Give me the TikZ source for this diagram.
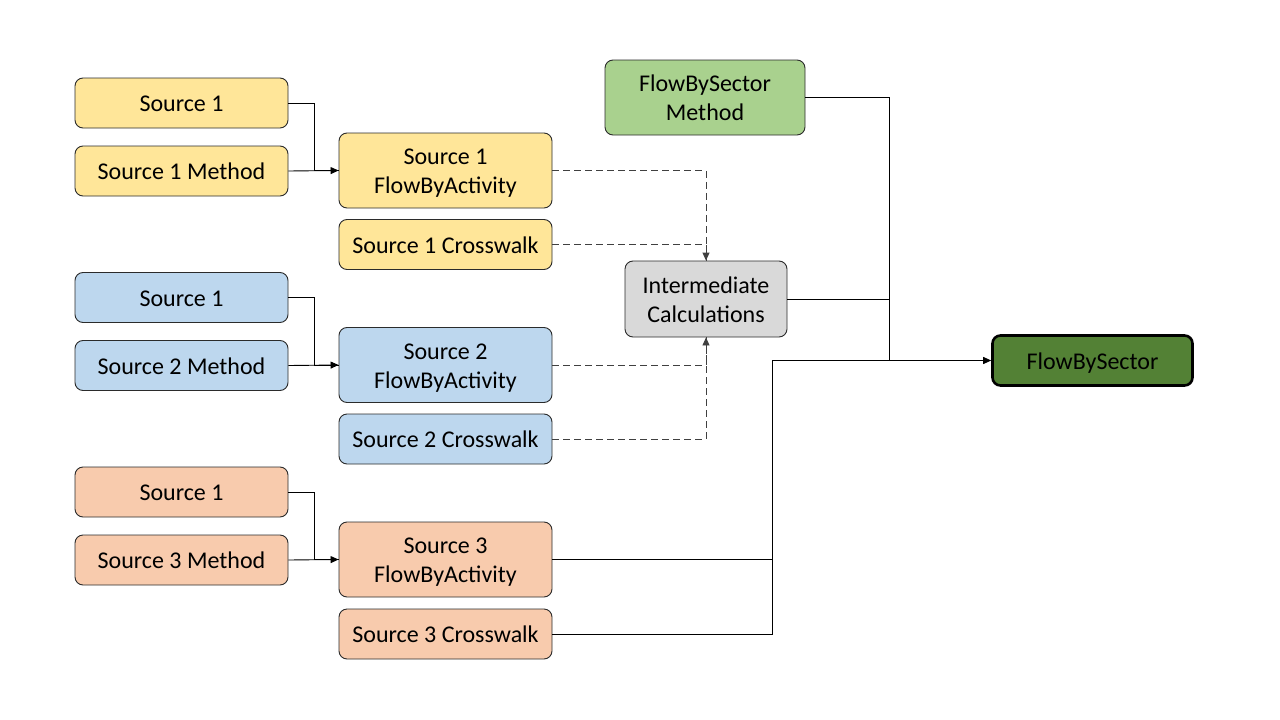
\documentclass[tikz,border=0pt]{standalone}
\usepackage{fontspec}
\setmainfont{Carlito}
\usetikzlibrary{arrows.meta,calc}
\definecolor{cyellow}{HTML}{FFE699}
\definecolor{cblue}{HTML}{BDD7EE}
\definecolor{corange}{HTML}{F8CBAD}
\definecolor{cgreenl}{HTML}{A9D18E}
\definecolor{cgray}{HTML}{D9D9D9}
\definecolor{cgreend}{HTML}{538135}
\definecolor{cborder}{HTML}{2B2B2B}
\newcommand{\tx}[1]{\raisebox{0pt}[17pt][\dimexpr\depth-8.7pt\relax]{\begin{tabular}[t]{@{}c@{}}#1\end{tabular}}}
\tikzset{
  box/.style={draw=cborder, line width=0.9pt, rounded corners=8pt, align=center,
    inner sep=0pt, font=\fontsize{24}{29}\selectfont, text=black},
  smallbox/.style={box, minimum width=213pt, minimum height=50pt},
  bigbox/.style={box, minimum width=213pt, minimum height=75pt},
  conn/.style={line width=0.9pt, draw=black},
  arr/.style={conn, -{Triangle[length=8pt,width=7pt]}},
  dconn/.style={line width=0.9pt, draw=black!75, dash pattern=on 7pt off 4pt},
  darr/.style={dconn, -{Triangle[length=8pt,width=7pt]}},
}
\begin{document}
\begin{tikzpicture}[x=1pt,y=-1pt]
\useasboundingbox (0,0) rectangle (1280,720);
% left column
\node[smallbox, fill=cyellow] (s1) at (181.5,103) {\tx{Source 1}};
\node[smallbox, fill=cyellow] (m1) at (181.5,171) {\tx{Source 1 Method}};
\node[smallbox, fill=cblue] (s2) at (181.5,297.5) {\tx{Source 1}};
\node[smallbox, fill=cblue] (m2) at (181.5,365.5) {\tx{Source 2 Method}};
\node[smallbox, fill=corange] (s3) at (181.5,492) {\tx{Source 1}};
\node[smallbox, fill=corange] (m3) at (181.5,560) {\tx{Source 3 Method}};
% middle column
\node[bigbox, fill=cyellow] (f1) at (445.5,170.5) {\tx{Source 1\\FlowByActivity}};
\node[smallbox, fill=cyellow] (c1) at (445.5,244.5) {\tx{Source 1 Crosswalk}};
\node[bigbox, fill=cblue] (f2) at (445.5,365) {\tx{Source 2\\FlowByActivity}};
\node[smallbox, fill=cblue] (c2) at (445.5,439) {\tx{Source 2 Crosswalk}};
\node[bigbox, fill=corange] (f3) at (445.5,559.5) {\tx{Source 3\\FlowByActivity}};
\node[smallbox, fill=corange] (c3) at (445.5,634) {\tx{Source 3 Crosswalk}};
% right side
\node[box, fill=cgray, minimum width=162pt, minimum height=76pt] (ic) at (706,299) {\tx{Intermediate\\Calculations}};
\node[box, fill=cgreenl, minimum width=200pt, minimum height=75pt] (fm) at (705,97.5) {\tx{FlowBySector\\Method}};
\node[box, fill=cgreend, line width=2.6pt, draw=black, minimum width=200pt, minimum height=50pt] (fbs) at (1092.5,360.5) {\tx{FlowBySector}};
% connectors: sources to FBA
\draw[conn] (s1.east) -- ++(26,0) |- (f1.west);
\draw[arr] (m1.east) -- (f1.west);
\draw[conn] (s2.east) -- ++(26,0) |- (f2.west);
\draw[arr] (m2.east) -- (f2.west);
\draw[conn] (s3.east) -- ++(26,0) |- (f3.west);
\draw[arr] (m3.east) -- (f3.west);
% dashed to intermediate
\draw[darr] (f1.east) -| (ic.north);
\draw[dconn] (c1.east) -| (ic.north);
\draw[darr] (f2.east) -| (ic.south);
\draw[dconn] (c2.east) -| (ic.south);
% to FlowBySector
\coordinate (j1) at (889,360.5);
\coordinate (j2) at (772,360.5);
\draw[arr] (fm.east) -| (j1) -- (fbs.west);
\draw[conn] (ic.east) -- (ic.east -| j1);
\draw[conn] (f3.east) -| (j2) -- (j1);
\draw[conn] (c3.east) -| (j2);
\end{tikzpicture}
\end{document}
